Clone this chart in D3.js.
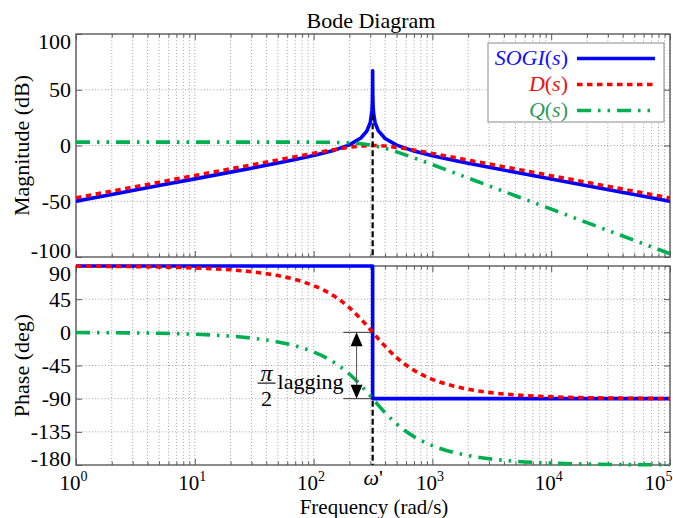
<!DOCTYPE html>
<html>
<head>
<meta charset="utf-8">
<script src="https://cdn.jsdelivr.net/npm/d3@7"></script>
<style>
  body { margin: 0; background: #fff; }
  svg text, svg tspan { font-family: "Liberation Serif", "Tinos", "Times New Roman", "DejaVu Serif", serif !important; fill: #000; }
</style>
</head>
<body>
<svg id="chart" width="673" height="518"></svg>
<script>
// Frequency grid (rad/s) shared by D(s) and Q(s)
const freq = [1, 2, 5, 10, 20, 30, 50, 70, 100, 150, 200, 250, 280, 300, 310, 314.16,
  320, 330, 350, 400, 500, 700, 1000, 1500, 2000, 3000, 5000, 10000, 20000, 50000, 100000];

// D(s) magnitude (dB) and phase (deg)
const dMag = [-46.93, -40.91, -32.95, -26.93, -20.91, -17.39, -12.96, -10.04, -6.98, -3.63, -1.57,
  -0.44, -0.11, -0.02, 0.00, 0.00, 0.00, -0.02, -0.10, -0.49, -1.66, -4.12, -7.09, -10.58, -13.07,
  -16.59, -21.03, -27.05, -33.07, -41.03, -47.05];
const dPhase = [89.74, 89.48, 88.71, 87.42, 84.84, 82.24, 77.00, 71.66, 63.40, 48.83, 33.45,
  18.05, 9.27, 3.73, 1.08, 0, -1.49, -3.98, -8.70, -19.03, -34.26, -51.53, -63.76, -72.79, -77.17,
  -81.48, -84.90, -87.45, -88.73, -89.49, -89.75];

// Q(s) magnitude (dB) and phase (deg)
const qMag = [3.01, 3.01, 3.01, 3.01, 3.01, 3.01, 3.01, 3.00, 2.97, 2.79, 2.35, 1.55, 0.89, 0.38,
  0.11, 0, -0.16, -0.45, -1.04, -2.59, -5.69, -11.08, -17.15, -24.16, -29.15, -36.19, -45.06,
  -57.10, -69.15, -85.06, -97.10];
const qPhase = [-0.26, -0.52, -1.29, -2.58, -5.16, -7.76, -13.00, -18.34, -26.60, -41.17, -56.55,
  -71.95, -80.73, -86.27, -88.92, -90, -91.49, -93.98, -98.70, -109.03, -124.26, -141.53, -153.76,
  -162.79, -167.17, -171.48, -174.90, -177.45, -178.73, -179.49, -179.75];

// SOGI(s) magnitude, sampled densely around the resonance
const sogiFreq = [1, 2, 5, 10, 20, 30, 50, 70, 100, 150, 200, 250, 280, 300, 310, 312, 313.5, 314.0,
  314.09, 314.23, 314.3, 315, 317, 320, 330, 350, 400, 500, 700, 1000, 1500, 2000, 3000, 5000,
  10000, 20000, 50000, 100000];
const sogiMag = [-49.94, -43.92, -35.96, -29.93, -23.89, -20.32, -15.74, -12.60, -9.01, -4.17, 0.59,
  6.73, 12.74, 20.70, 31.48, 37.21, 47.53, 59.89, 67.0, 66.9, 60.94, 45.44, 34.89, 28.67, 20.14,
  13.29, 6.23, 0.33, -5.01, -9.15, -13.19, -15.86, -19.50, -24.00, -30.05, -36.08, -44.04, -50.06];

// SOGI(s) phase: +90 below the resonance, -90 above it
const sogiPhaseFreq = [1, 314.16, 314.16, 100000];
const sogiPhase = [90, 90, -90, -90];

const omegaPrime = 314.16;
const magTicks = [-100, -50, 0, 50, 100];
const phaseTicks = [-180, -135, -90, -45, 0, 45, 90];
const decadeTicks = [1, 10, 100, 1000, 10000, 100000];

const BLUE = "#0000ff", RED = "#ff0000", GREEN = "#00b050";
const FRAME = "#5a5a5a";
const SERIF = '"Liberation Serif", "Tinos", "Times New Roman", "DejaVu Serif", serif';

const svg = d3.select("#chart").style("font-family", SERIF);
const x = d3.scaleLog().domain([1, 1e5]).range([76, 670]);
const yM = d3.scaleLinear().domain([-100, 100]).range([257, 34]);
const yP = d3.scaleLinear().domain([-180, 90]).range([465, 266]);
const minorTicks = x.ticks().filter(d => !decadeTicks.includes(d));

function panel(y, yTicks, id) {
  const top = y.range()[1], bot = y.range()[0];
  const [x0, x1] = x.range();
  const g = svg.append("g");

  // dotted grid
  g.append("g").selectAll("line").data(x.ticks()).join("line")
    .attr("x1", d => x(d)).attr("x2", d => x(d)).attr("y1", top).attr("y2", bot)
    .attr("stroke", "#a0a0a0").attr("stroke-width", 1).attr("stroke-dasharray", "1,2.2");
  g.append("g").selectAll("line").data(yTicks.slice(1, -1)).join("line")
    .attr("x1", x0).attr("x2", x1).attr("y1", d => y(d)).attr("y2", d => y(d))
    .attr("stroke", "#a0a0a0").attr("stroke-width", 1).attr("stroke-dasharray", "1,2.2");

  // inward tick marks on all four sides
  const noDomain = s => s.select(".domain").remove();
  g.append("g").attr("transform", `translate(0,${bot})`).attr("color", FRAME)
    .call(d3.axisBottom(x).tickValues(decadeTicks).tickSize(-6).tickFormat("")).call(noDomain);
  g.append("g").attr("transform", `translate(0,${bot})`).attr("color", FRAME)
    .call(d3.axisBottom(x).tickValues(minorTicks).tickSize(-3.5).tickFormat("")).call(noDomain);
  g.append("g").attr("transform", `translate(0,${top})`).attr("color", FRAME)
    .call(d3.axisTop(x).tickValues(decadeTicks).tickSize(-6).tickFormat("")).call(noDomain);
  g.append("g").attr("transform", `translate(0,${top})`).attr("color", FRAME)
    .call(d3.axisTop(x).tickValues(minorTicks).tickSize(-3.5).tickFormat("")).call(noDomain);
  g.append("g").attr("transform", `translate(${x1},0)`).attr("color", FRAME)
    .call(d3.axisRight(y).tickValues(yTicks).tickSize(-6).tickFormat("")).call(noDomain);

  const yl = g.append("g").attr("transform", `translate(${x0},0)`).attr("color", FRAME)
    .call(d3.axisLeft(y).tickValues(yTicks).tickSize(-6).tickPadding(5).tickFormat(d => String(d)))
    .call(noDomain);
  yl.attr("font-family", SERIF);
  yl.selectAll("text")
    .style("font-family", SERIF)
    .attr("font-size", 22).style("fill", "#000")
    .attr("y", d => d === yTicks[yTicks.length - 1] ? 7 : d === yTicks[0] ? -7 : 0);

  // frame
  g.append("rect").attr("x", x0).attr("y", top).attr("width", x1 - x0).attr("height", bot - top)
    .attr("fill", "none").attr("stroke", FRAME).attr("stroke-width", 1.4);

  svg.append("clipPath").attr("id", id).append("rect")
    .attr("x", x0).attr("y", top - 3).attr("width", x1 - x0).attr("height", bot - top + 6);
  return svg.append("g").attr("clip-path", `url(#${id})`);
}

const lineOf = (xs, y, curve) => d3.line()
  .x((d, i) => x(xs[i])).y(d => y(d)).curve(curve || d3.curveMonotoneX);

function drawSeries(g, xs, ys, y, color, dash, curve) {
  g.append("path").datum(ys).attr("d", lineOf(xs, y, curve)(ys))
    .attr("fill", "none").attr("stroke", color).attr("stroke-width", 3.6)
    .attr("stroke-dasharray", dash || null).attr("stroke-linejoin", "round");
}

const DASH_D = "5.5,4.5";
const DASH_Q = "14,7,2.5,7,2.5,7";

// ---- magnitude panel ----
const gm = panel(yM, magTicks, "clipMag");
drawSeries(gm, sogiFreq, sogiMag, yM, BLUE, null, d3.curveLinear);
drawSeries(gm, freq, dMag, yM, RED, DASH_D);
drawSeries(gm, freq, qMag, yM, GREEN, DASH_Q);
gm.append("line").attr("x1", x(omegaPrime)).attr("x2", x(omegaPrime))
  .attr("y1", yM(28)).attr("y2", yM(-100))
  .attr("stroke", "#000").attr("stroke-width", 2.2).attr("stroke-dasharray", "6,3");

// ---- phase panel ----
const gp = panel(yP, phaseTicks, "clipPhase");
drawSeries(gp, sogiPhaseFreq, sogiPhase, yP, BLUE, null, d3.curveLinear);
drawSeries(gp, freq, dPhase, yP, RED, DASH_D);
drawSeries(gp, freq, qPhase, yP, GREEN, DASH_Q);
gp.append("line").attr("x1", x(omegaPrime)).attr("x2", x(omegaPrime))
  .attr("y1", yP(-90) + 2).attr("y2", yP(-180))
  .attr("stroke", "#000").attr("stroke-width", 2.2).attr("stroke-dasharray", "6,3");

// ---- pi/2 lagging annotation ----
const refFrom = 178, arrowAt = 230;
const ann = svg.append("g");
[0, -90].forEach(v => {
  ann.append("line").attr("x1", x(refFrom)).attr("x2", x(omegaPrime))
    .attr("y1", yP(v)).attr("y2", yP(v)).attr("stroke", "#333").attr("stroke-width", 1);
});
const ax = x(arrowAt), ay0 = yP(0), ay1 = yP(-90);
ann.append("line").attr("x1", ax).attr("x2", ax).attr("y1", ay0 + 10).attr("y2", ay1 - 10)
  .attr("stroke", "#555").attr("stroke-width", 1);
ann.append("path").attr("d", `M${ax},${ay0} L${ax - 6},${ay0 + 14} L${ax + 6},${ay0 + 14} Z`).attr("fill", "#000");
ann.append("path").attr("d", `M${ax},${ay1} L${ax - 6},${ay1 - 14} L${ax + 6},${ay1 - 14} Z`).attr("fill", "#000");
const fx = ax - 90, fy = yP(-75);
ann.append("text").attr("x", fx).attr("y", fy - 7).attr("text-anchor", "middle")
  .attr("font-size", 24).attr("font-style", "italic").text("π");
ann.append("line").attr("x1", fx - 9).attr("x2", fx + 9).attr("y1", fy - 4.5).attr("y2", fy - 4.5)
  .attr("stroke", "#000").attr("stroke-width", 1.1);
ann.append("text").attr("x", fx).attr("y", fy + 18).attr("text-anchor", "middle")
  .attr("font-size", 22).text("2");
ann.append("text").attr("x", fx + 11).attr("y", fy + 1).attr("font-size", 22).text("lagging");

// ---- frequency axis labels ----
const xl = svg.append("g").attr("transform", `translate(0,${yP.range()[0]})`)
  .call(d3.axisBottom(x).tickValues(decadeTicks).tickSize(0).tickFormat(""));
xl.select(".domain").remove();
xl.attr("font-family", SERIF);
xl.selectAll(".tick text").each(function (d) {
  const t = d3.select(this).attr("y", 24.5).attr("dy", null)
    .style("font-family", SERIF)
    .attr("font-size", 21).style("fill", "#000");
  const last = d === decadeTicks[decadeTicks.length - 1];
  if (last) t.attr("text-anchor", "end").attr("x", 2); else t.attr("dx", -3);
  t.append("tspan").text("10");
  t.append("tspan").attr("dy", -9).attr("font-size", 14).text(Math.round(Math.log10(d)));
});
const wl = svg.append("g").attr("transform", `translate(0,${yP.range()[0]})`)
  .call(d3.axisBottom(x).tickValues([omegaPrime]).tickSize(0).tickFormat(""));
wl.select(".domain").remove();
wl.attr("font-family", SERIF);
wl.selectAll(".tick text").attr("y", 20).attr("dy", null)
  .style("font-family", SERIF)
  .attr("font-size", 22).style("fill", "#000")
  .call(t => { t.append("tspan").attr("font-style", "italic").text("ω"); t.append("tspan").text("'"); });

// ---- titles ----
svg.append("text").attr("x", 371).attr("y", 28).attr("text-anchor", "middle")
  .attr("font-size", 22).text("Bode Diagram");
svg.append("text").attr("x", 374).attr("y", 514).attr("text-anchor", "middle")
  .attr("font-size", 21).text("Frequency (rad/s)");
svg.append("text").attr("transform", `translate(28.5,${(yM.range()[0] + yM.range()[1]) / 2}) rotate(-90)`)
  .attr("text-anchor", "middle").attr("font-size", 22).text("Magnitude (dB)");
svg.append("text").attr("transform", `translate(28.5,${(yP.range()[0] + yP.range()[1]) / 2}) rotate(-90)`)
  .attr("text-anchor", "middle").attr("font-size", 22).text("Phase (deg)");

// ---- legend ----
const legendItems = [
  { parts: [["SOGI", true], ["(", false], ["s", true], [")", false]], color: BLUE, text: "#1010ff", dash: null },
  { parts: [["D", true], ["(", false], ["s", true], [")", false]], color: RED, text: "#ee1111", dash: DASH_D },
  { parts: [["Q", true], ["(", false], ["s", true], [")", false]], color: GREEN, text: "#2e9a5c", dash: DASH_Q }
];
const lg = svg.append("g");
lg.append("rect").attr("x", 488).attr("y", 43).attr("width", 176).attr("height", 79)
  .attr("fill", "#fff").attr("stroke", "#8a8a8a").attr("stroke-width", 1);
legendItems.forEach((it, i) => {
  const base = 65 + i * 26;
  const t = lg.append("text").attr("x", 568).attr("y", base).attr("text-anchor", "end")
    .attr("font-size", 22).style("fill", it.text);
  it.parts.forEach(([s, ital]) => t.append("tspan").attr("font-style", ital ? "italic" : "normal")
    .style("fill", it.text).text(s));
  lg.append("line").attr("x1", 577).attr("x2", 655).attr("y1", base - 6.5).attr("y2", base - 6.5)
    .attr("stroke", it.color).attr("stroke-width", 3.6).attr("stroke-dasharray", it.dash);
});
</script>
</body>
</html>
